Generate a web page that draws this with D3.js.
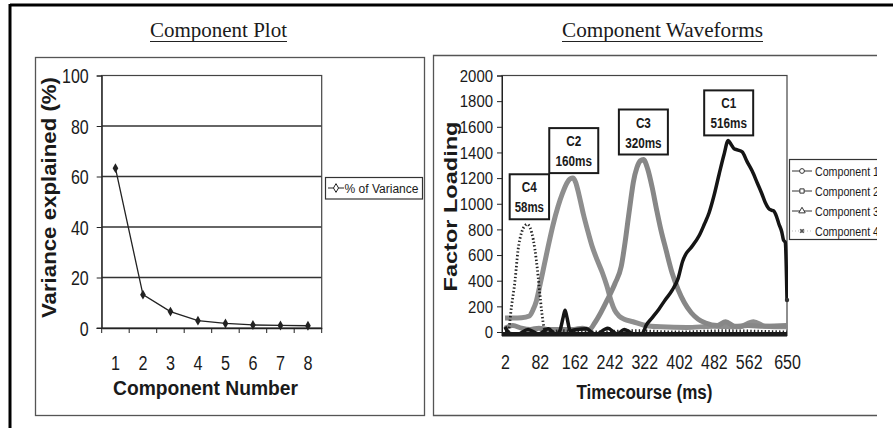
<!DOCTYPE html>
<html><head><meta charset="utf-8">
<script src="https://cdn.jsdelivr.net/npm/d3@7"></script>
<style>
body{margin:0;background:#fff;}
svg{display:block;background:#fff;}
text{font-family:"Liberation Sans",Arial,sans-serif;fill:#1a1a1a;}
</style></head><body>
<svg id="c" width="893" height="428"></svg>
<script>
// ---------- Left chart: Component Plot ----------
const componentNumbers = [1, 2, 3, 4, 5, 6, 7, 8];
const varianceExplained = [63.3, 13.2, 6.5, 2.9, 1.8, 1.2, 1.0, 0.9];
const varianceTicks = [0, 20, 40, 60, 80, 100];

// ---------- Right chart: Component Waveforms ----------
const timeTicks = [2, 82, 162, 242, 322, 402, 482, 562, 650];
const loadingTicks = [0, 200, 400, 600, 800, 1000, 1200, 1400, 1600, 1800, 2000];

const comp1Times  = [2, 12, 30, 55, 80, 101, 120, 128, 136, 140, 144, 152, 166, 189, 210, 238, 260, 276, 300, 318, 326, 340, 356, 370, 387, 400, 410, 418, 430, 448, 460, 471, 482, 494, 505, 515, 522, 528, 536, 547, 558, 570, 582, 592, 600, 608, 614, 619, 626, 631, 638, 642, 646, 650];
const comp1Values = [40, -10, -20, 20, -15, 25, -20, 10, 120, 170, 120, 10, 20, 25, -20, 30, -15, 20, -20, -10, 50, 110, 180, 250, 330, 420, 550, 610, 660, 750, 840, 930, 1060, 1230, 1380, 1494, 1460, 1430, 1420, 1405, 1330, 1255, 1160, 1080, 1010, 962, 950, 945, 900, 846, 780, 716, 700, 250];

const comp2Times  = [2, 20, 40, 58, 66, 74, 82, 92, 102, 112, 124, 134, 144, 152, 158, 164, 172, 182, 192, 202, 214, 226, 236, 246, 254, 264, 276, 296, 320, 360, 420, 480, 540, 573, 600, 650];
const comp2Values = [110, 110, 112, 125, 170, 240, 360, 520, 680, 830, 980, 1080, 1160, 1195, 1200, 1170, 1070, 920, 790, 670, 560, 460, 360, 240, 170, 125, 100, 80, 55, 40, 35, 45, 40, 80, 45, 40];

const comp3Times  = [2, 20, 40, 60, 80, 100, 120, 160, 180, 196, 208, 222, 237, 255, 269, 278, 285, 291, 297, 305, 313, 320, 330, 340, 350, 360, 372, 386, 400, 414, 430, 446, 463, 490, 509, 530, 560, 600, 650];
const comp3Values = [30, 50, 30, 20, 30, 20, 20, 20, 30, 20, 70, 150, 250, 380, 510, 700, 880, 1030, 1170, 1280, 1335, 1345, 1270, 1130, 960, 800, 640, 460, 330, 230, 150, 100, 70, 50, 80, 45, 50, 45, 50];

const comp4Times  = [2, 9, 17, 25, 32, 40, 47, 53, 60, 67, 74, 82, 86, 93, 100, 130, 200, 300, 400, 500, 650];
const comp4Values = [0, 0, 200, 400, 640, 775, 825, 840, 810, 720, 560, 300, 170, 20, 0, 10, 0, 10, 0, 10, 0];

const seriesNames = ["Component 1", "Component 2", "Component 3", "Component 4"];
const peakNames = ["C1", "C2", "C3", "C4"];
const peakLatencies = [516, 160, 320, 58];

// ---------- build ----------
const svg = d3.select("#c");

function fit(sel, len) { return sel.attr("textLength", len).attr("lengthAdjust", "spacingAndGlyphs"); }
function fitChars(sel, per) {
  sel.each(function () { fit(d3.select(this), this.textContent.length * per); });
}

// outer frame
svg.append("line").attr("x1", 10).attr("x2", 893).attr("y1", 5).attr("y2", 5).attr("stroke", "#000").attr("stroke-width", 3);
svg.append("line").attr("x1", 10).attr("x2", 10).attr("y1", 4).attr("y2", 428).attr("stroke", "#000").attr("stroke-width", 3);

// panels
svg.append("rect").attr("x", 35.5).attr("y", 57.5).attr("width", 389).attr("height", 358)
  .attr("fill", "none").attr("stroke", "#555").attr("stroke-width", 1.3);
svg.append("path").attr("d", "M877,55.5H433.5V415.5H877").attr("fill", "none").attr("stroke", "#555").attr("stroke-width", 1.3);

// titles
const titleFont = '"Liberation Serif","Times New Roman",serif';
fit(svg.append("text").attr("x", 218.5).attr("y", 37).attr("text-anchor", "middle")
  .style("font-family", titleFont).style("font-size", "22px").text("Component Plot"), 137);
svg.append("line").attr("x1", 150).attr("x2", 287).attr("y1", 41.5).attr("y2", 41.5).attr("stroke", "#222").attr("stroke-width", 1);
fit(svg.append("text").attr("x", 662.5).attr("y", 37).attr("text-anchor", "middle")
  .style("font-family", titleFont).style("font-size", "22px").text("Component Waveforms"), 201);
svg.append("line").attr("x1", 562).attr("x2", 763).attr("y1", 41.5).attr("y2", 41.5).attr("stroke", "#222").attr("stroke-width", 1);

// ===== Left chart =====
const L = {left: 101.7, right: 321.7, top: 75.5, bottom: 328};
const xL = d3.scaleBand().domain(componentNumbers).range([L.left, L.right]);
const yL = d3.scaleLinear().domain([0, 100]).range([L.bottom, L.top]);

svg.append("g").selectAll("line").data(varianceTicks.filter(d => d > 0 && d < 100)).join("line")
  .attr("x1", L.left).attr("x2", L.right).attr("y1", d => yL(d)).attr("y2", d => yL(d))
  .attr("stroke", "#333").attr("stroke-width", 1.3);
svg.append("rect").attr("x", L.left).attr("y", L.top).attr("width", L.right - L.left).attr("height", L.bottom - L.top)
  .attr("fill", "none").attr("stroke", "#444").attr("stroke-width", 1.2);

const yAxL = svg.append("g").attr("transform", `translate(${L.left},0)`)
  .call(d3.axisLeft(yL).tickValues(varianceTicks).tickSize(5).tickPadding(8));
yAxL.select(".domain").attr("stroke", "#222");
yAxL.selectAll(".tick line").attr("stroke", "#222");
yAxL.selectAll(".tick text").style("font-size", "20px").attr("dy", "0.36em").style("font-family", null).call(fitChars, 8.9);

const xAxL = svg.append("g").attr("transform", `translate(0,${L.bottom})`)
  .call(d3.axisBottom(xL).tickSize(0).tickPadding(0));
xAxL.select(".domain").attr("stroke", "#222").attr("stroke-width", 1.3);
xAxL.selectAll(".tick text").style("font-size", "20px").attr("y", 42).attr("dy", 0).style("font-family", null).call(fitChars, 9);
svg.append("g").selectAll("line").data(d3.range(componentNumbers.length + 1)).join("line")
  .attr("x1", i => L.left + i * xL.step()).attr("x2", i => L.left + i * xL.step())
  .attr("y1", L.bottom).attr("y2", L.bottom + 5).attr("stroke", "#222");
svg.append("line").attr("x1", L.left - 5).attr("x2", L.left).attr("y1", L.bottom).attr("y2", L.bottom).attr("stroke", "#222");

const lineL = d3.line().x((d, i) => xL(componentNumbers[i]) + xL.bandwidth() / 2).y(d => yL(d));
svg.append("path").datum(varianceExplained).attr("d", lineL).attr("fill", "none").attr("stroke", "#222").attr("stroke-width", 1.3);
svg.append("g").selectAll("path").data(varianceExplained).join("path")
  .attr("transform", (d, i) => `translate(${xL(componentNumbers[i]) + xL.bandwidth() / 2},${yL(d)})`)
  .attr("d", d3.symbol(d3.symbolDiamond, 28)).attr("fill", "#222");

fit(svg.append("text").attr("transform", "translate(56,197.5) rotate(-90)").attr("text-anchor", "middle")
  .style("font-weight", "bold").style("font-size", "19.5px").text("Variance explained (%)"), 241);
fit(svg.append("text").attr("x", 205.5).attr("y", 395).attr("text-anchor", "middle")
  .style("font-weight", "bold").style("font-size", "20px").text("Component Number"), 185);

// legend left
svg.append("rect").attr("x", 325.5).attr("y", 177.5).attr("width", 97).attr("height", 21.5)
  .attr("fill", "#fff").attr("stroke", "#333").attr("stroke-width", 1.2);
svg.append("line").attr("x1", 328).attr("x2", 344).attr("y1", 188).attr("y2", 188).attr("stroke", "#222").attr("stroke-width", 1);
svg.append("path").attr("transform", "translate(336,188)").attr("d", d3.symbol(d3.symbolDiamond, 22)).attr("fill", "#fff").attr("stroke", "#222");
fit(svg.append("text").attr("x", 344.5).attr("y", 192.5).style("font-size", "12.5px").text("% of Variance"), 74);

// ===== Right chart =====
const R = {left: 502, right: 787, top: 75.5, bottom: 332};
const xR = d3.scaleLinear().domain([2, 650]).range([505, 787]);
const yR = d3.scaleLinear().domain([0, 2000]).range([R.bottom, R.top]);

const defs = svg.append("defs");
defs.append("clipPath").attr("id", "plotR").append("rect")
  .attr("x", R.left).attr("y", R.top - 2).attr("width", R.right - R.left + 1).attr("height", R.bottom - R.top + 6);
defs.append("clipPath").attr("id", "panelR").append("rect")
  .attr("x", 433).attr("y", 50).attr("width", 444).attr("height", 370);

svg.append("rect").attr("x", R.left).attr("y", R.top).attr("width", R.right - R.left).attr("height", R.bottom + 3.5 - R.top)
  .attr("fill", "none").attr("stroke", "#444").attr("stroke-width", 1.2);

const yAxR = svg.append("g").attr("transform", `translate(${R.left},0)`)
  .call(d3.axisLeft(yR).tickValues(loadingTicks).tickFormat(d3.format("d")).tickSize(5).tickPadding(4));
yAxR.select(".domain").attr("stroke", "#222");
yAxR.selectAll(".tick line").attr("stroke", "#222");
yAxR.selectAll(".tick text").style("font-size", "16px").attr("dy", "0.36em").style("font-family", null).call(fitChars, 8.3);

const xAxR = svg.append("g").attr("transform", `translate(0,${R.bottom})`)
  .call(d3.axisBottom(xR).tickValues(timeTicks).tickFormat(d3.format("d")).tickSize(0).tickPadding(0));
xAxR.select(".domain").remove();
xAxR.selectAll(".tick text").style("font-size", "19.5px").attr("y", 36.5).attr("dy", 0).style("font-family", null).call(fitChars, 8.9);

const series = [
  {name: seriesNames[0], t: comp1Times, v: comp1Values, color: "#151515", width: 3.5, dash: null, sym: d3.symbolCircle},
  {name: seriesNames[1], t: comp2Times, v: comp2Values, color: "#8e8e8e", width: 5, dash: null, sym: d3.symbolSquare},
  {name: seriesNames[2], t: comp3Times, v: comp3Values, color: "#878787", width: 5, dash: null, sym: d3.symbolTriangle},
  {name: seriesNames[3], t: comp4Times, v: comp4Values, color: "#222", width: 2.8, dash: "1.4,2.2", sym: d3.symbolCross}
];
const lineR = d3.line().curve(d3.curveMonotoneX).x(d => xR(d[0])).y(d => yR(d[1]));
const gLines = svg.append("g").attr("clip-path", "url(#plotR)");
[series[1], series[2], series[3], series[0]].forEach(s => {
  gLines.append("path").datum(s.t.map((t, i) => [t, s.v[i]])).attr("d", lineR)
    .attr("fill", "none").attr("stroke", s.color).attr("stroke-width", s.width)
    .attr("stroke-linejoin", "round").attr("stroke-dasharray", s.dash);
});
// dark baseline band where all components sit near zero
svg.append("line").attr("x1", R.left).attr("x2", R.right).attr("y1", yR(0) + 2.2).attr("y2", yR(0) + 2.2)
  .attr("stroke", "#1a1a1a").attr("stroke-width", 4.5);
svg.append("circle").attr("cx", xR(comp1Times[comp1Times.length - 1])).attr("cy", yR(comp1Values[comp1Values.length - 1]))
  .attr("r", 2.2).attr("fill", "#333");

// peak annotations
const allSeries = [comp1Values, comp2Values, comp3Values, comp4Values];
peakNames.forEach((nm, i) => {
  const lab = peakLatencies[i] + "ms";
  const w = lab.length * 9.6 + 1, h = 45;
  const cx = xR(peakLatencies[i]);
  const bottom = yR(d3.max(allSeries[i])) - 5;
  const top = bottom - h;
  svg.append("rect").attr("x", cx - w / 2).attr("y", top).attr("width", w).attr("height", h)
    .attr("fill", "#fff").attr("stroke", "#1a1a1a").attr("stroke-width", 2);
  fit(svg.append("text").attr("x", cx).attr("y", top + 18).attr("text-anchor", "middle")
    .style("font-weight", "bold").style("font-size", "14px").text(nm), 15);
  fit(svg.append("text").attr("x", cx).attr("y", top + 38).attr("text-anchor", "middle")
    .style("font-weight", "bold").style("font-size", "14px").text(lab), lab.length * 7.3);
});

fit(svg.append("text").attr("transform", "translate(456.5,206.5) rotate(-90)").attr("text-anchor", "middle")
  .style("font-weight", "bold").style("font-size", "18.5px").text("Factor Loading"), 170);
fit(svg.append("text").attr("x", 644.5).attr("y", 399).attr("text-anchor", "middle")
  .style("font-weight", "bold").style("font-size", "20px").text("Timecourse (ms)"), 136);

// legend right (clipped by panel)
const gLeg = svg.append("g").attr("clip-path", "url(#panelR)");
gLeg.append("rect").attr("x", 789.5).attr("y", 159.5).attr("width", 100).attr("height", 80)
  .attr("fill", "#fff").attr("stroke", "#333").attr("stroke-width", 1.2);
series.forEach((s, i) => {
  const y = 171 + i * 20;
  if (i < 3) {
    gLeg.append("line").attr("x1", 792).attr("x2", 812).attr("y1", y).attr("y2", y).attr("stroke", "#333").attr("stroke-width", 1);
    gLeg.append("path").attr("transform", `translate(802,${y})`).attr("d", d3.symbol(s.sym, 18))
      .attr("fill", "#fff").attr("stroke", "#333").attr("stroke-width", 1);
  } else {
    gLeg.append("line").attr("x1", 792).attr("x2", 812).attr("y1", y).attr("y2", y).attr("stroke", "#bbb").attr("stroke-width", 1).attr("stroke-dasharray", "1,2");
    gLeg.append("path").attr("transform", `translate(802,${y}) rotate(45)`).attr("d", d3.symbol(s.sym, 14)).attr("fill", "#555");
  }
  fit(gLeg.append("text").attr("x", 815).attr("y", y + 4.5).style("font-size", "13px").text(s.name), 64);
});
</script>
</body></html>
